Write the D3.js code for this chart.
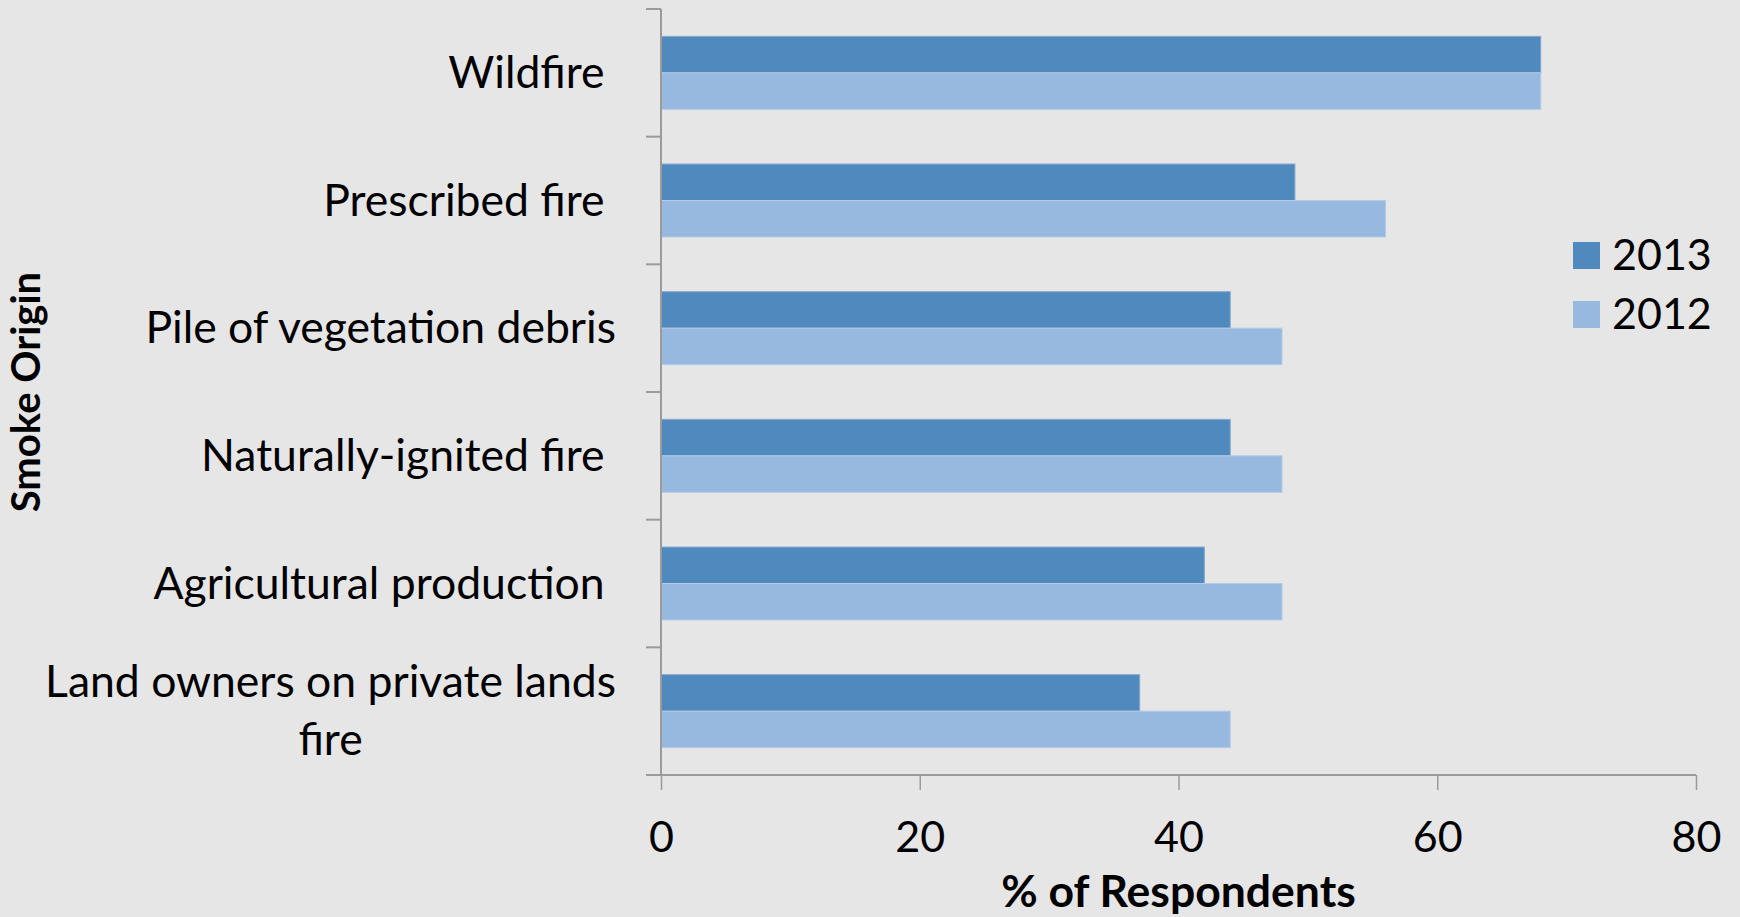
<!DOCTYPE html>
<html>
<head>
<meta charset="utf-8">
<script src="https://cdn.jsdelivr.net/npm/d3@7"></script>
<style>
  html, body { margin: 0; padding: 0; background: #e6e6e6; }
  svg { display: block; }
  text { font-family: Lato, "Open Sans", sans-serif; fill: #000; }
</style>
</head>
<body>
<svg id="chart" width="1740" height="917"></svg>
<script>
// ---- data ----
const categories = ["Wildfire ", "Prescribed fire ", "Pile of vegetation debris", "Naturally-ignited fire ", "Agricultural production ", "Land owners on private lands fire"];
const seriesNames = ["2013", "2012"];
const values2013 = [68, 49, 44, 44, 42, 37];
const values2012 = [68, 56, 48, 48, 48, 44];
const xTicks = [0, 20, 40, 60, 80];
const xTitle = "% of Respondents";
const yTitle = "Smoke Origin";
const colors = ["#4f89bd", "#97b9e0"];
const strokes = ["#86a9cf", "#b3cbe8"];

const seriesValues = [values2013, values2012];

const svg = d3.select("#chart");
const W = 1740, H = 917;
svg.append("rect").attr("width", W).attr("height", H).attr("fill", "#e6e6e6");

const plot = {left: 661, right: 1696, top: 9, bottom: 775};

const x = d3.scaleLinear().domain([0, 80]).range([plot.left, plot.right]);
const y = d3.scaleBand().domain(categories).range([plot.top, plot.bottom]).padding(0);
const ys = d3.scaleBand().domain(seriesNames).range([0, y.bandwidth()]).paddingInner(0).paddingOuter(0.75);

// bars
const g = svg.append("g");
seriesNames.forEach((s, si) => {
  g.selectAll(null)
    .data(categories.map((c, i) => ({c, v: seriesValues[si][i]})))
    .enter().append("rect")
    .attr("x", x(0))
    .attr("y", d => y(d.c) + ys(s))
    .attr("width", d => x(d.v) - x(0))
    .attr("height", ys.bandwidth())
    .attr("fill", colors[si])
    .attr("stroke", strokes[si])
    .attr("stroke-width", 1);
});

// y axis (category boundaries as ticks)
const axisColor = "#9b9b9b";
const yAxisG = svg.append("g");
yAxisG.append("line")
  .attr("x1", x(0)).attr("x2", x(0))
  .attr("y1", plot.top).attr("y2", plot.bottom)
  .attr("stroke", axisColor).attr("stroke-width", 2);
const boundaries = categories.map(c => y(c)).concat([plot.bottom]);
yAxisG.selectAll(null).data(boundaries).enter().append("line")
  .attr("x1", x(0) - 15).attr("x2", x(0))
  .attr("y1", d => d).attr("y2", d => d)
  .attr("stroke", axisColor).attr("stroke-width", 2);

// x axis
const xAxis = d3.axisBottom(x).tickValues(xTicks).tickSize(15).tickPadding(32).tickFormat(d3.format("d"));
const xAxisG = svg.append("g").attr("transform", `translate(0,${plot.bottom})`).call(xAxis);
xAxisG.select(".domain").remove();
xAxisG.append("line").attr("x1", x(0) - 15).attr("x2", x(80)).attr("y1", 0).attr("y2", 0)
  .attr("stroke", axisColor).attr("stroke-width", 2);
xAxisG.selectAll(".tick line").attr("stroke", axisColor).attr("stroke-width", 1.5);
xAxisG.selectAll(".tick text")
  .attr("font-size", 43).attr("fill", "#000")
  .style("font-family", "Lato, sans-serif")
  .attr("dy", null).attr("y", 77);

// category labels
const labelRight = 616;
const maxLabelWidth = 610;
const lineH = 58;
const labFont = 44.5;
const labG = svg.append("g").attr("font-size", labFont);
categories.forEach(c => {
  const cy = y(c) + y.bandwidth() / 2;
  const words = c.trim().split(/\s+/);
  const tmp = labG.append("text").style("white-space", "pre");
  const lines = [];
  let cur = "";
  words.forEach(w => {
    const test = cur ? cur + " " + w : w;
    tmp.text(test);
    if (tmp.node().getComputedTextLength() > maxLabelWidth && cur) {
      lines.push(cur); cur = w;
    } else cur = test;
  });
  lines.push(cur);
  tmp.remove();
  if (lines.length === 1) {
    labG.append("text").style("white-space", "pre")
      .attr("x", labelRight).attr("y", cy + 15)
      .attr("text-anchor", "end").text(c);
  } else {
    const t0 = labG.append("text").text(lines[0]);
    const w0 = t0.node().getComputedTextLength();
    const center = labelRight - w0 / 2;
    t0.remove();
    lines.forEach((ln, li) => {
      labG.append("text")
        .attr("x", center)
        .attr("y", cy + 15 + (li - (lines.length - 1) / 2) * lineH)
        .attr("text-anchor", "middle").text(ln);
    });
  }
});

// axis titles
svg.append("text").attr("x", x(40)).attr("y", 907)
  .attr("text-anchor", "middle").attr("font-size", 44.5).attr("font-weight", "bold")
  .text(xTitle);
svg.append("text")
  .attr("transform", `translate(40,${(plot.top + plot.bottom) / 2}) rotate(-90)`)
  .attr("text-anchor", "middle").attr("font-size", 40).attr("font-weight", "bold")
  .text(yTitle);

// legend
const legend = svg.append("g").attr("transform", "translate(1573,242)");
seriesNames.forEach((s, i) => {
  const lg = legend.append("g").attr("transform", `translate(0,${i * 59})`);
  lg.append("rect").attr("width", 27).attr("height", 27).attr("fill", colors[i]);
  lg.append("text").attr("x", 39).attr("y", 28).attr("font-size", 43).text(s);
});
</script>
</body>
</html>
